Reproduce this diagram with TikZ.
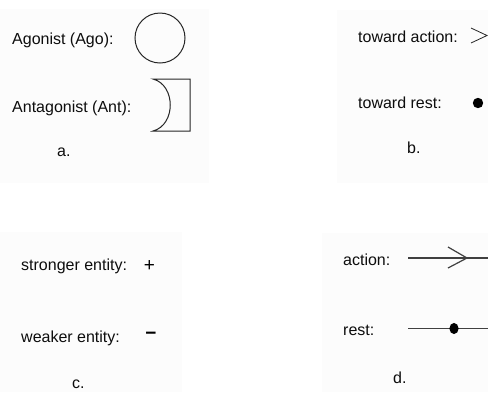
\documentclass[tikz,border=0pt]{standalone}
\usepackage{fontspec}
\setmainfont{Liberation Sans}
\begin{document}
\begin{tikzpicture}[x=1pt,y=-1pt,
  lbl/.style={anchor=base west,inner sep=0pt,font=\fontsize{16}{18}\selectfont,text=black!95},
  sym/.style={anchor=center,inner sep=0pt,font=\fontsize{19}{21}\selectfont,text=black},
  panel/.style={fill=black!1,draw=none},
  ln/.style={draw=black!75,line width=1.2pt},
  thin/.style={draw=black!85,line width=1pt}]
\useasboundingbox (0,0) rectangle (488,392);
\fill[white] (0,0) rectangle (488,392);
% panel backgrounds
\path[panel] (0,9) rectangle (209,183);
\path[panel] (337,10) rectangle (488,183);
\path[panel] (0,232) rectangle (182,392);
\path[panel] (322,233) rectangle (488,392);
% panel a
\node[lbl] (ago) at (12,44) {Agonist (Ago):};
\draw[thin] (160,38) circle (25);
\node[lbl] (ant) at (12,112) {Antagonist (Ant):};
\draw[thin] (153,79) -- (190,79) -- (190,131) -- (153,131)
  .. controls (176,125) and (176,85) .. cycle;
\node[lbl] (la) at (57,156) {a.};
% panel b
\node[lbl] (ta) at (358,42) {toward action:};
\draw[draw=black!85,line width=0.8pt] (471,28) -- (487,35.5) -- (471,43);
\node[lbl] (tr) at (358,108.5) {toward rest:};
\fill[black] (478,103) circle (5.2);
\node[lbl] (lb) at (407,153) {b.};
% panel c
\node[lbl] (se) at (21,270) {stronger entity:};
\node[sym] (plus) at (149.5,266.5) {+};
\node[lbl] (we) at (21,342) {weaker entity:};
\node[sym] (minus) at (151,335.5) {\textbf{−}};
\node[lbl] (lc) at (72,388.5) {c.};
% panel d
\node[lbl] (act) at (343,265) {action:};
\coordinate (a1) at (408,258);
\coordinate (a2) at (488,258);
\draw[ln] (a1) -- (a2);
\draw[ln,line join=miter] (448,247) -- (467,258) -- (448,268);
\node[lbl] (rst) at (343,335) {rest:};
\coordinate (r1) at (408,328.5);
\coordinate (r2) at (488,328.5);
\draw[ln] (r1) -- (r2);
\fill[black] (454,328.5) ellipse (4.6 and 5.6);
\node[lbl] (ld) at (393,383) {d.};
\end{tikzpicture}
\end{document}
